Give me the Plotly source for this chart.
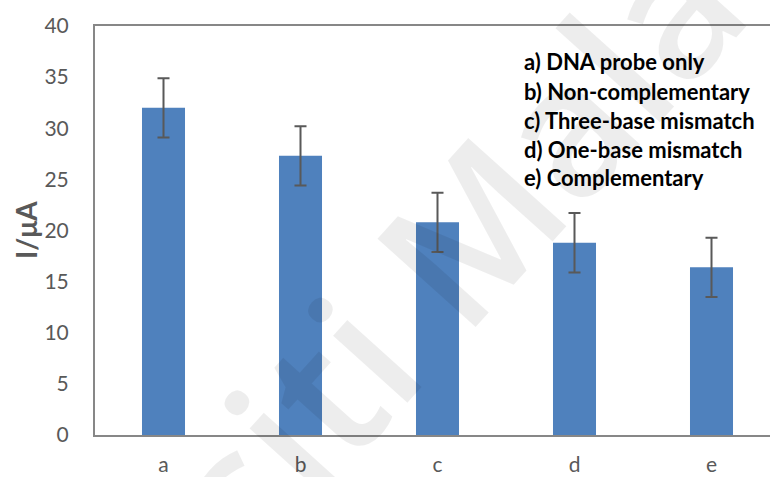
import plotly.graph_objects as go

# Peak current for each DNA target, with standard deviations
categories = ["a", "b", "c", "d", "e"]
current_uA = [32.0, 27.3, 20.8, 18.8, 16.4]
error_uA = [2.9, 2.9, 2.9, 2.9, 2.9]
y_ticks = [0, 5, 10, 15, 20, 25, 30, 35, 40]
key_lines = [
    "a) DNA probe only",
    "b) Non-complementary",
    "c) Three-base mismatch",
    "d) One-base mismatch",
    "e) Complementary",
]

W, H = 770, 477
M_L, M_R, M_T, M_B = 95, 0, 26, 42
CAT_PX = 137  # pixel width of one category slot
x_span = (W - M_L - M_R) / CAT_PX
plot_w = W - M_L - M_R
plot_h = H - M_T - M_B


def px_x(px):
    return (px - M_L) / plot_w


def px_y(px):
    return 1 - (px - M_T) / plot_h


fig = go.Figure()
fig.add_trace(go.Bar(
    x=list(range(len(categories))),
    y=current_uA,
    width=0.314,
    marker=dict(color="#4F81BD", line=dict(width=0)),
    error_y=dict(type="data", array=error_uA, visible=True,
                 color="#595959", thickness=2, width=6),
))

font_fam = "Lato, Open Sans, sans-serif"

fig.update_layout(
    width=W, height=H,
    margin=dict(l=M_L, r=M_R, t=M_T, b=M_B, pad=0, autoexpand=False),
    paper_bgcolor="white", plot_bgcolor="white",
    showlegend=False,
    xaxis=dict(
        range=[-0.5, -0.5 + x_span],
        tickmode="array",
        tickvals=list(range(len(categories))),
        ticktext=categories,
        tickfont=dict(family=font_fam, size=21, color="#595959"),
        ticks="", showgrid=False, zeroline=False, automargin=False,
        showline=True, mirror=True, linecolor="#878787", linewidth=2,
        ticklabelstandoff=10,
    ),
    yaxis=dict(
        range=[0, 40],
        tickmode="array", tickvals=y_ticks,
        tickfont=dict(family=font_fam, size=21, color="#595959"),
        ticks="", showgrid=False, zeroline=False, automargin=False,
        showline=True, mirror=False, linecolor="#878787", linewidth=2,
        ticklabelstandoff=20,
    ),
)

# y-axis title
fig.add_annotation(
    x=px_x(26), xref="paper", y=px_y(230), yref="paper",
    text="<b>I/μA</b>", textangle=-90, showarrow=False,
    font=dict(family=font_fam, size=28, color="#595959"),
    xanchor="center", yanchor="middle",
)

# key for the sample labels
for i, line in enumerate(key_lines):
    fig.add_annotation(
        x=px_x(522), xref="paper",
        y=px_y(62 + 29 * i), yref="paper",
        text=f"<b>{line}</b>", showarrow=False,
        xanchor="left", yanchor="middle",
        font=dict(family=font_fam, size=22, color="#000000"),
    )

# diagonal repository watermark
fig.add_annotation(
    x=px_x(322), xref="paper", y=px_y(390), yref="paper",
    text="Universiti Malaya", textangle=-48, showarrow=False,
    xanchor="center", yanchor="middle",
    font=dict(family="Open Sans, sans-serif", size=185, weight=600,
              color="rgba(0,0,0,0.07)"),
)

fig.write_html("out.html")
